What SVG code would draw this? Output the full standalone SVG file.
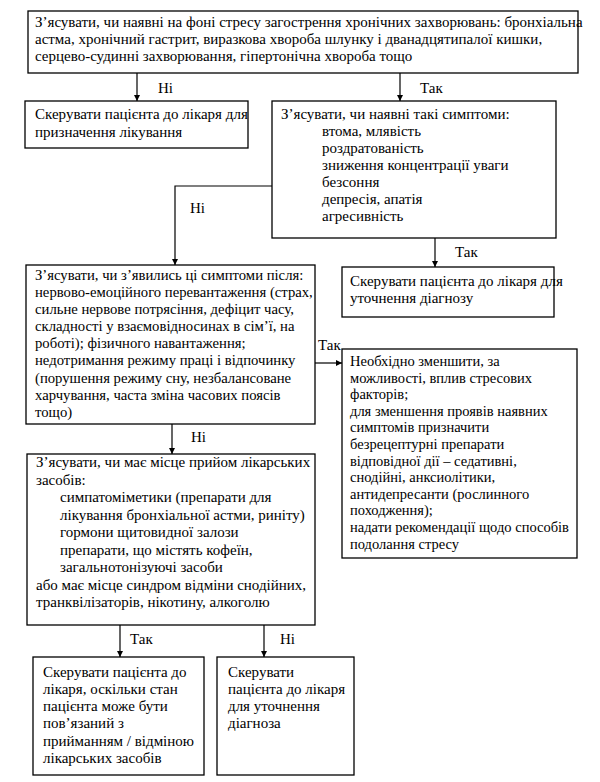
<svg xmlns="http://www.w3.org/2000/svg" width="600" height="782" viewBox="0 0 600 782">
<style>
rect.b{fill:#fff;stroke:#000;stroke-width:1.3}
text{font-family:"Liberation Serif","Times New Roman",serif;font-size:15px;fill:#000}
#n4 text{font-size:14.7px}
#n6 text{font-size:14.5px}
.c line,.c polyline{stroke:#000;stroke-width:1.2;fill:none}
</style>
<defs>
<marker id="ah" viewBox="0 0 10 10" refX="10" refY="5" markerWidth="7" markerHeight="6" markerUnits="userSpaceOnUse" orient="auto">
<path d="M0,0 L10,5 L0,10 z" fill="#000"/>
</marker>
</defs>
<rect width="600" height="782" fill="#fff"/>
<g id="n1">
<rect class="b" x="28" y="11" width="550" height="62"/>
<text x="35" y="27">З’ясувати, чи наявні на фоні стресу загострення хронічних захворювань: бронхіальна</text>
<text x="35" y="44">астма, хронічний гастрит, виразкова хвороба шлунку і дванадцятипалої кишки,</text>
<text x="35" y="61">серцево-судинні захворювання, гіпертонічна хвороба тощо</text>
</g>
<g id="n2">
<rect class="b" x="25" y="101" width="223" height="47"/>
<text x="35" y="119">Скерувати пацієнта до лікаря для</text>
<text x="35" y="137">призначення лікування</text>
</g>
<g id="n3">
<rect class="b" x="272" y="101" width="284" height="137"/>
<text x="281" y="119">З’ясувати, чи наявні такі симптоми:</text>
<text x="322" y="136">втома, млявість</text>
<text x="322" y="153">роздратованість</text>
<text x="322" y="170">зниження концентрації уваги</text>
<text x="322" y="187">безсоння</text>
<text x="322" y="204">депресія, апатія</text>
<text x="322" y="221">агресивність</text>
</g>
<g id="n4">
<rect class="b" x="26" y="265" width="289" height="159"/>
<text x="35" y="280">З’ясувати, чи з’явились ці симптоми після:</text>
<text x="35" y="297">нервово-емоційного перевантаження (страх,</text>
<text x="35" y="314">сильне нервове потрясіння, дефіцит часу,</text>
<text x="35" y="331">складності у взаємовідносинах в сім’ї, на</text>
<text x="35" y="348">роботі); фізичного навантаження;</text>
<text x="35" y="365">недотримання режиму праці і відпочинку</text>
<text x="35" y="383">(порушення режиму сну, незбалансоване</text>
<text x="35" y="400">харчування, часта зміна часових поясів</text>
<text x="35" y="417">тощо)</text>
</g>
<g id="n5">
<rect class="b" x="342" y="267" width="212" height="50"/>
<text x="350" y="286">Скерувати пацієнта до лікаря для</text>
<text x="350" y="303">уточнення діагнозу</text>
</g>
<g id="n6">
<rect class="b" x="342" y="349" width="235" height="209"/>
<text x="350" y="366">Необхідно зменшити, за</text>
<text x="350" y="383">можливості, вплив стресових</text>
<text x="350" y="399">факторів;</text>
<text x="350" y="416">для зменшення проявів наявних</text>
<text x="350" y="432">симптомів призначити</text>
<text x="350" y="449">безрецептурні препарати</text>
<text x="350" y="466">відповідної дії – седативні,</text>
<text x="350" y="482">снодійні, анксиолітики,</text>
<text x="350" y="499">антидепресанти (рослинного</text>
<text x="350" y="515">походження);</text>
<text x="350" y="532">надати рекомендації щодо способів</text>
<text x="350" y="549">подолання стресу</text>
</g>
<g id="n7">
<rect class="b" x="27" y="454" width="288" height="171"/>
<text x="36" y="467">З’ясувати, чи має місце прийом лікарських</text>
<text x="36" y="485">засобів:</text>
<text x="60" y="502">симпатоміметики (препарати для</text>
<text x="60" y="520">лікування бронхіальної астми, риніту)</text>
<text x="60" y="537">гормони щитовидної залози</text>
<text x="60" y="555">препарати, що містять кофеїн,</text>
<text x="60" y="572">загальнотонізуючі засоби</text>
<text x="36" y="590">або має місце синдром відміни снодійних,</text>
<text x="36" y="607">транквілізаторів, нікотину, алкоголю</text>
</g>
<g id="n8">
<rect class="b" x="33" y="657" width="171" height="118"/>
<text x="43" y="677">Скерувати пацієнта до</text>
<text x="43" y="694">лікаря, оскільки стан</text>
<text x="43" y="711">пацієнта може бути</text>
<text x="43" y="728">пов’язаний з</text>
<text x="43" y="746">прийманням / відміною</text>
<text x="43" y="763">лікарських засобів</text>
</g>
<g id="n9">
<rect class="b" x="217" y="657" width="137" height="118"/>
<text x="228" y="677">Скерувати</text>
<text x="228" y="694">пацієнта до лікаря</text>
<text x="228" y="711">для уточнення</text>
<text x="228" y="728">діагноза</text>
</g>
<g id="connectors" class="c">
<line x1="137" y1="73" x2="137" y2="101" marker-end="url(#ah)"/>
<line x1="400" y1="73" x2="400" y2="101" marker-end="url(#ah)"/>
<polyline points="272,186 175,186 175,265" marker-end="url(#ah)"/>
<line x1="435" y1="238" x2="435" y2="267" marker-end="url(#ah)"/>
<line x1="315" y1="363" x2="342" y2="363" marker-end="url(#ah)"/>
<line x1="172" y1="424" x2="172" y2="454" marker-end="url(#ah)"/>
<line x1="120" y1="625" x2="120" y2="657" marker-end="url(#ah)"/>
<line x1="264" y1="625" x2="264" y2="657" marker-end="url(#ah)"/>
<text x="158" y="93">Ні</text>
<text x="420" y="93">Так</text>
<text x="190" y="213">Ні</text>
<text x="455" y="257">Так</text>
<text x="318" y="350">Так</text>
<text x="191" y="442">Ні</text>
<text x="130" y="644">Так</text>
<text x="280" y="644">Ні</text>
</g>
</svg>
